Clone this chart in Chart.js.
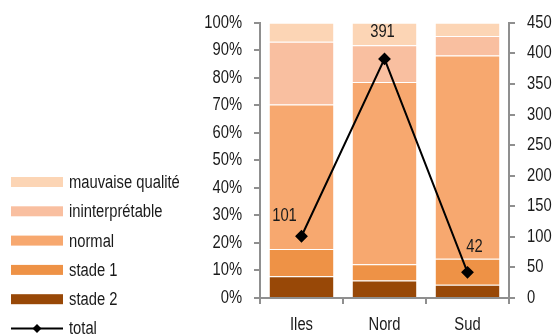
<!DOCTYPE html>
<html>
<head>
<meta charset="utf-8">
<script src="https://cdn.jsdelivr.net/npm/chart.js@4/dist/chart.umd.min.js"></script>
<style>
html,body{margin:0;padding:0;background:#fff;}
#wrap{width:553px;height:334px;position:relative;}
</style>
</head>
<body>
<div id="wrap"><canvas id="c" width="553" height="334"></canvas></div>
<script>
const categories = ['Iles', 'Nord', 'Sud'];
const stade2 = [7.9, 6.4, 4.8];
const stade1 = [9.9, 5.9, 9.5];
const normal = [52.5, 66.2, 73.8];
const ininterpretable = [22.8, 13.3, 7.1];
const mauvaiseQualite = [6.9, 8.2, 4.8];
const total = [101, 391, 42];
const percentTicks = [0,10,20,30,40,50,60,70,80,90,100];
const totalTicks = [0,50,100,150,200,250,300,350,400,450];

const FONT = "'Liberation Sans', Arial, sans-serif";
const TXT = '#1a1a1a';
const AXIS = '#8f8f8f';
const NARROW = 0.82;

// condensed text rendering (narrow face emulation)
const canvas = document.getElementById('c');
const ctx0 = canvas.getContext('2d');
const origFill = ctx0.fillText.bind(ctx0);
const origMeasure = ctx0.measureText.bind(ctx0);
ctx0.fillText = function(text, x, y, maxWidth) {
  this.save();
  this.translate(x, y);
  this.scale(NARROW, 1);
  origFill(text, 0, 0);
  this.restore();
};
ctx0.measureText = function(text) {
  const m = origMeasure(text);
  return {
    width: m.width * NARROW,
    actualBoundingBoxLeft: m.actualBoundingBoxLeft * NARROW,
    actualBoundingBoxRight: m.actualBoundingBoxRight * NARROW,
    actualBoundingBoxAscent: m.actualBoundingBoxAscent,
    actualBoundingBoxDescent: m.actualBoundingBoxDescent,
    fontBoundingBoxAscent: m.fontBoundingBoxAscent,
    fontBoundingBoxDescent: m.fontBoundingBoxDescent
  };
};

const barDs = (label, data, color) => ({
  type: 'bar', label, data, backgroundColor: color, yAxisID: 'y',
  borderColor: 'rgba(255,255,255,0.55)', borderWidth: {top: 1, bottom: 0, left: 0, right: 0},
  borderSkipped: false, barPercentage: 0.77, categoryPercentage: 1, order: 2
});

const legendPlugin = {
  id: 'sideLegend',
  afterDraw(chart) {
    const ctx = chart.ctx;
    const ds = chart.data.datasets;
    const bars = ds.filter(d => d.type === 'bar').slice().reverse();
    const lines = ds.filter(d => d.type === 'line');
    const items = bars.concat(lines);
    const x0 = 11, w = 52, h = 10, y0 = 182, step = 29.3;
    ctx.save();
    ctx.font = '18px ' + FONT;
    ctx.textBaseline = 'middle';
    ctx.textAlign = 'left';
    items.forEach((d, i) => {
      const cy = y0 + i * step;
      if (d.type === 'bar') {
        ctx.fillStyle = d.backgroundColor;
        ctx.fillRect(x0, cy - h / 2, w, h);
      } else {
        ctx.strokeStyle = d.borderColor;
        ctx.lineWidth = 2;
        ctx.beginPath();
        ctx.moveTo(x0, cy); ctx.lineTo(x0 + w, cy); ctx.stroke();
        ctx.fillStyle = d.pointBackgroundColor;
        ctx.beginPath();
        const cx = x0 + w / 2, r = 4.5;
        ctx.moveTo(cx, cy - r); ctx.lineTo(cx + r, cy); ctx.lineTo(cx, cy + r); ctx.lineTo(cx - r, cy);
        ctx.closePath(); ctx.fill();
      }
      ctx.fillStyle = TXT;
      ctx.fillText(d.label, 69, cy + 1);
    });
    ctx.restore();
  }
};

const pointLabelPlugin = {
  id: 'pointLabels',
  afterDatasetsDraw(chart, args, opts) {
    const ctx = chart.ctx;
    chart.data.datasets.forEach((d, di) => {
      if (d.type !== 'line') return;
      const meta = chart.getDatasetMeta(di);
      ctx.save();
      ctx.font = '18px ' + FONT;
      ctx.fillStyle = TXT;
      ctx.textAlign = 'center';
      ctx.textBaseline = 'middle';
      meta.data.forEach((pt, i) => {
        const off = opts.offsets[i] || [0, -22];
        ctx.fillText(String(d.data[i]), pt.x + off[0], pt.y + off[1]);
      });
      ctx.restore();
    });
  }
};

const gridOpts = {display: true, drawOnChartArea: false, drawTicks: true, tickLength: 6, color: AXIS, lineWidth: 2};
const borderOpts = {display: true, color: AXIS, width: 2};

new Chart(canvas, {
  data: {
    labels: categories,
    datasets: [
      barDs('stade 2', stade2, '#984807'),
      barDs('stade 1', stade1, '#EE9246'),
      barDs('normal', normal, '#F7A86F'),
      barDs('ininterprétable', ininterpretable, '#F9BFA0'),
      barDs('mauvaise qualité', mauvaiseQualite, '#FCD5B5'),
      {
        type: 'line', label: 'total', data: total, yAxisID: 'y1',
        borderColor: '#000', borderWidth: 2, pointStyle: 'rectRot', pointRadius: 5,
        pointBackgroundColor: '#000', pointBorderColor: '#000', tension: 0, order: 0
      }
    ]
  },
  options: {
    responsive: false,
    animation: false,
    devicePixelRatio: 1,
    layout: {padding: {top: 22, left: 0, right: 0, bottom: 0}},
    plugins: {
      legend: {display: false},
      tooltip: {enabled: false},
      pointLabels: {offsets: [[-17, -20], [-2, -27], [7, -25]]}
    },
    scales: {
      x: {
        stacked: true, offset: true,
        grid: Object.assign({}, gridOpts, {offset: true}),
        border: borderOpts,
        ticks: {color: TXT, font: {family: FONT, size: 18}, padding: 10},
        afterFit(s) { s.height = 36; }
      },
      y: {
        stacked: true, position: 'left', min: 0, max: 100,
        afterBuildTicks(s) { s.ticks = percentTicks.map(v => ({value: v})); },
        ticks: {color: TXT, font: {family: FONT, size: 18}, padding: 12, callback: v => v + '%'},
        grid: gridOpts, border: borderOpts,
        afterFit(s) { s.width = 260; }
      },
      y1: {
        position: 'right', min: 0, max: 450,
        afterBuildTicks(s) { s.ticks = totalTicks.map(v => ({value: v})); },
        ticks: {color: TXT, font: {family: FONT, size: 18}, padding: 12},
        grid: gridOpts, border: borderOpts,
        afterFit(s) { s.width = 44; }
      }
    }
  },
  plugins: [legendPlugin, pointLabelPlugin]
});
</script>
</body>
</html>
